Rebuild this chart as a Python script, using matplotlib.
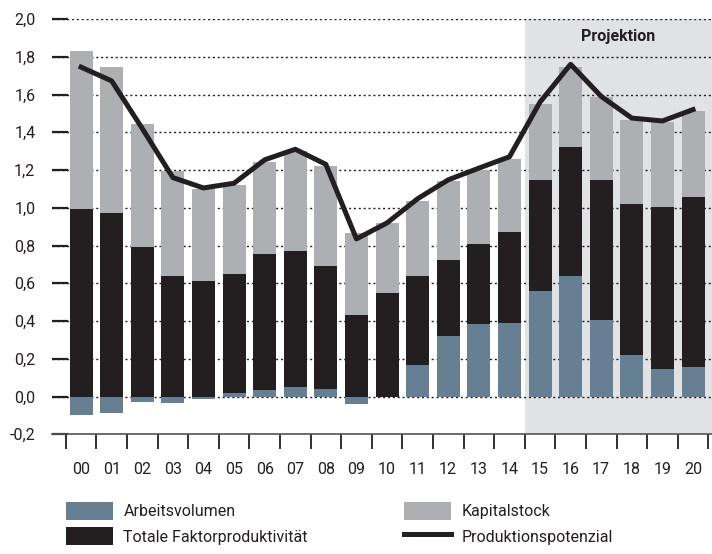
import numpy as np
import matplotlib
matplotlib.use("Agg")
import matplotlib.pyplot as plt
from matplotlib.patches import Patch
from matplotlib.lines import Line2D
from matplotlib.ticker import FuncFormatter

plt.rcParams['font.family'] = ['Roboto', 'DejaVu Sans']

# data (percentage points)
years = ['00', '01', '02', '03', '04', '05', '06', '07', '08', '09', '10',
         '11', '12', '13', '14', '15', '16', '17', '18', '19', '20']
arbeitsvolumen = [-0.10, -0.085, -0.03, -0.035, -0.015, 0.017, 0.037, 0.048, 0.042, -0.037, -0.005,
                  0.169, 0.323, 0.386, 0.392, 0.561, 0.64, 0.407, 0.222, 0.148, 0.159]
tfp = [0.995, 0.97, 0.79, 0.64, 0.61, 0.633, 0.72, 0.724, 0.651, 0.434, 0.55,
       0.468, 0.402, 0.424, 0.481, 0.587, 0.683, 0.741, 0.799, 0.857, 0.899]
kapitalstock = [0.835, 0.775, 0.655, 0.555, 0.49, 0.47, 0.486, 0.528, 0.529, 0.434, 0.37,
                0.40, 0.418, 0.39, 0.387, 0.402, 0.423, 0.439, 0.445, 0.45, 0.455]
potenzial = [1.745, 1.672, 1.42, 1.16, 1.105, 1.13, 1.254, 1.31, 1.23, 0.835, 0.92,
             1.048, 1.148, 1.21, 1.27, 1.56, 1.76, 1.59, 1.475, 1.46, 1.52]
projection_start = '15'

c_av = '#677f93'
c_tfp = '#231f20'
c_kap = '#aeafb2'
c_shade = '#e1e2e4'
c_text = '#231f20'

fig = plt.figure(figsize=(7.12, 5.54), dpi=100)
ax = fig.add_axes([52 / 712, 1 - 434.3 / 554, 1 - 52 / 712, 415.3 / 554])

x = np.arange(len(years))
av = np.array(arbeitsvolumen)
tf = np.array(tfp)
kp = np.array(kapitalstock)
pos = np.clip(av, 0, None)

# projection shading
p0 = years.index(projection_start) - 0.5
ax.axvspan(p0, 21, color=c_shade, zorder=0, lw=0)
ax.text((p0 + 20.62) / 2, 1.905, 'Projektion', ha='center', va='center',
        fontsize=11.5, fontweight='bold', color=c_text, zorder=5)

# dotted grid
for yv in np.arange(0, 2.01, 0.2):
    ax.axhline(yv, color=c_text, lw=1.0, ls=(0, (1.5, 2)), zorder=1)

w = 0.75
ax.bar(x, av, w, color=c_av, zorder=2, lw=0)
ax.bar(x, tf, w, bottom=pos, color=c_tfp, zorder=2, lw=0)
ax.bar(x, kp, w, bottom=pos + tf, color=c_kap, zorder=2, lw=0)
ax.plot(x, potenzial, color=c_text, lw=3.6, zorder=4)

ax.set_xlim(-0.95, 20.62)
ax.set_ylim(-0.2, 2.0)

for s in ['left', 'right', 'top']:
    ax.spines[s].set_visible(False)
ax.spines['bottom'].set_color('#555555')
ax.spines['bottom'].set_linewidth(1.2)

ax.set_yticks(np.arange(-0.2, 2.01, 0.2))
ax.yaxis.set_major_formatter(FuncFormatter(lambda v, p: f'{v:.1f}'.replace('.', ',').replace('-0,0', '0,0')))
ax.tick_params(axis='y', direction='in', length=11.5, width=1.6, pad=12,
               labelsize=11.5, colors=c_text)

# tick marks between the years, labels under the bars
ax.set_xticks(np.arange(-0.5, 21, 1))
ax.set_xticklabels([])
ax.set_xticks(x, years, minor=True)
ax.tick_params(axis='x', which='major', direction='out', length=11, width=1.3, color=c_text)
ax.tick_params(axis='x', which='minor', length=0, pad=20, labelsize=11.5, labelcolor=c_text)

# legend in two columns
h1 = [Patch(color=c_av, lw=0), Patch(color=c_tfp, lw=0)]
h2 = [Patch(color=c_kap, lw=0), Line2D([], [], color=c_text, lw=3.6)]
kw = dict(loc='upper left', frameon=False, fontsize=11.5, borderpad=0, borderaxespad=0,
          handlelength=2.94, handleheight=1.375, handletextpad=0.65, labelspacing=0.44,
          labelcolor=c_text)
fig.legend(h1, ['Arbeitsvolumen', 'Totale Faktorproduktivität'],
           bbox_to_anchor=(66 / 712, 1 - 502 / 554), **kw)
fig.legend(h2, ['Kapitalstock', 'Produktionspotenzial'],
           bbox_to_anchor=(404 / 712, 1 - 502 / 554), **kw)

fig.savefig('out.png', dpi=100)
